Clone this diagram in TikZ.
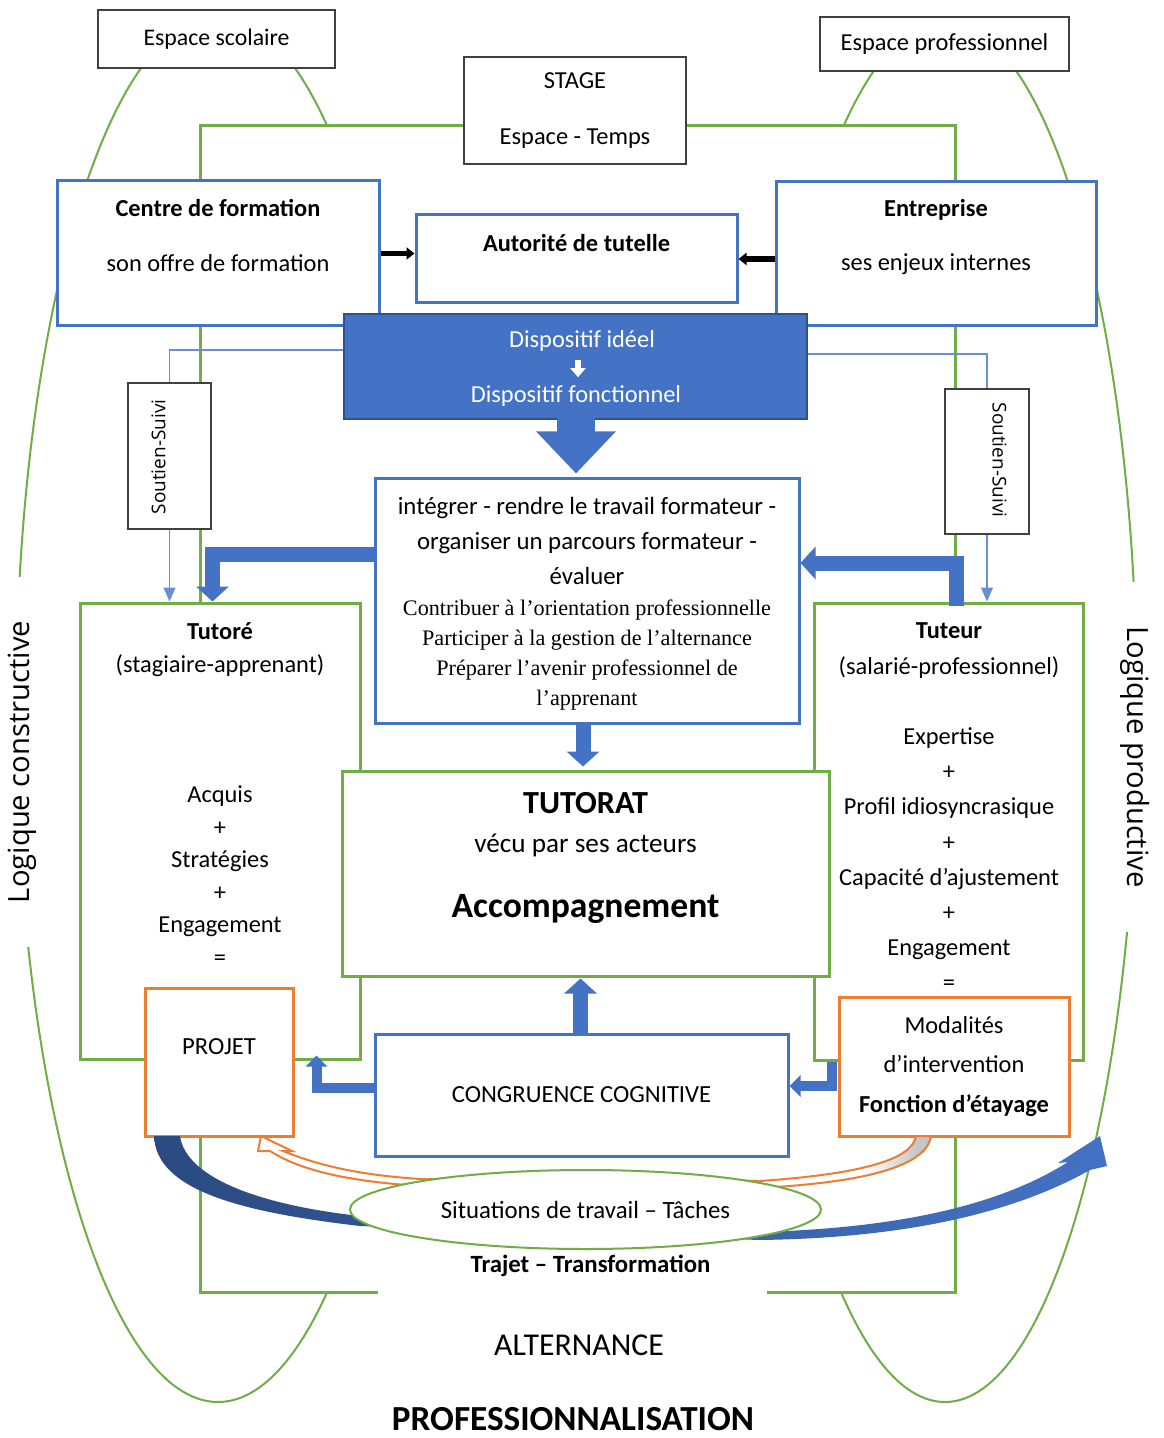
\documentclass[tikz,border=0pt]{standalone}
\usepackage{fontspec}
\setmainfont{Carlito}
\newfontfamily\seriffont{Liberation Serif}
\newfontfamily\logfont{Open Sans}
\usepackage{tikz}
\usetikzlibrary{shapes}
\usetikzlibrary{positioning}
\usetikzlibrary{arrows.meta}
\usetikzlibrary{calc}
\definecolor{blueA}{HTML}{4472C4}
\definecolor{blueD}{HTML}{2F528F}
\definecolor{blueL}{HTML}{6A8FD0}
\definecolor{greenA}{HTML}{70AD47}
\definecolor{orangeA}{HTML}{ED7D31}
\pgfdeclarehorizontalshading{orangefade}{100bp}{color(0bp)=(white); color(70bp)=(white); color(74bp)=(gray!45); color(100bp)=(gray!45)}
\newcommand{\fsz}[2]{\fontsize{#1}{#2}\selectfont}
\tikzset{
    espbox/.style = {rectangle, draw=black!75, line width=0.6pt, fill=white, inner sep=0pt, align=center, font=\fsz{12.2}{14}},
    bluebox/.style = {rectangle, draw=blueA, line width=1.5pt, fill=white, inner sep=0pt, align=center},
    greenbox/.style = {rectangle, draw=greenA, line width=1.5pt, fill=white, inner sep=0pt, align=center},
    orangebox/.style = {rectangle, draw=orangeA, line width=1.5pt, fill=white, inner sep=0pt, align=center},
    txt/.style = {inner sep=0pt, align=center, font=\fsz{12.2}{14}},
    logique/.style = {fill=white, inner xsep=22pt, inner ysep=6pt, font=\logfont\fsz{14.6}{17}},
    edgek/.style = {-{Triangle[width=6pt,length=4pt]}, line width=2.6pt, black},
    edget/.style = {blueL, line width=0.7pt},
    edgetip/.style = {edget, -{Triangle[width=6pt,length=7pt]}},
    edgew/.style = {-{Triangle[width=7.5pt,length=4.5pt]}, line width=3pt, white},
    edgebig/.style = {-{Triangle[width=38.5pt,length=21pt]}, line width=19pt, blueA},
    edgemid/.style = {-{Triangle[width=16pt,length=7.5pt]}, line width=7.5pt, blueA},
    edgesm/.style = {-{Triangle[width=10.5pt,length=5.5pt]}, line width=5pt, blueA},
    ellg/.style = {greenA, line width=1pt},
}

\begin{document}
\begin{tikzpicture}[x=0.5pt, y=-0.5pt]
\useasboundingbox (0,0) rectangle (1163,1438);

% espaces et alternance
\draw[ellg] (218,709) ellipse [x radius=101pt, y radius=346.5pt];
\draw[ellg] (945,712) ellipse [x radius=96pt, y radius=345pt];
\fill[white] (200,126) rectangle (955,1292);
\draw[greenA, line width=1.5pt] (378,1292) -- (200,1292) -- (200,126) -- (955,126) -- (955,1292) -- (767,1292);
\node[logique, rotate=90] at (22,762) (logc) {Logique constructive};
\node[logique, rotate=-90] at (1135,757) (logp) {Logique productive};

\node[espbox, minimum width=118.5pt, minimum height=29pt, font=\fsz{11.9}{14}] at (216.5,39) (scol) {Espace scolaire};
\node[espbox, minimum width=111pt, minimum height=53.5pt, font=\fsz{12.2}{28}] at (575,110.5) (stage) {STAGE\\Espace - Temps};
\node[espbox, minimum width=124.5pt, minimum height=27pt] at (944.5,44) (pro) {Espace professionnel};

% acteurs institutionnels
\node[bluebox, minimum width=161pt, minimum height=72.5pt] at (218,253.5) (centre) {};
\node[txt, font=\fsz{12.2}{27.5}] at (218,236) (centreT) {\textbf{Centre de formation}\\son offre de formation};
\node[bluebox, minimum width=160.5pt, minimum height=44pt] at (576.5,259) (aut) {};
\node[txt] at (576.5,243) (autT) {\textbf{Autorité de tutelle}};
\node[bluebox, minimum width=160pt, minimum height=72pt] at (936,254) (entr) {};
\node[txt, font=\fsz{12.2}{27}] at (936,237) (entrT) {\textbf{Entreprise}\\ses enjeux internes};
\node[rectangle, draw=blueD, line width=1pt, fill=blueA, minimum width=231.5pt, minimum height=52.5pt] at (575.5,366.5) (disp) {};
\node[txt, white] at (582,341) (dispA) {Dispositif idéel};
\node[txt, white] at (576,396) (dispB) {Dispositif fonctionnel};

\node[espbox, minimum width=41.5pt, minimum height=73pt] at (169.5,456) (sout1) {};
\node[txt, font=\logfont\fsz{9.5}{11}] at (158.5,457) (sout1T) {\rotatebox{90}{Soutien-Suivi}};
\node[espbox, minimum width=42pt, minimum height=72.5pt] at (987,461.5) (sout2) {};
\node[txt, font=\logfont\fsz{9.5}{11}] at (999.5,460) (sout2T) {\rotatebox{-90}{Soutien-Suivi}};

\node[bluebox, minimum width=212pt, minimum height=122.5pt] at (587,600.5) (mission) {};
\node[txt, font=\fsz{12.4}{17.5}] at (587,541) (missionA) {intégrer - rendre le travail formateur -\\organiser un parcours formateur -\\évaluer};
\node[txt, font=\seriffont\fsz{11.1}{15}] at (587,655) (missionB) {Contribuer à l’orientation professionnelle\\Participer à la gestion de l’alternance\\Préparer l’avenir professionnel de\\l’apprenant};

% acteurs du tutorat
\node[greenbox, minimum width=140pt, minimum height=228pt] at (220,831) (tutore) {};
\node[txt, font=\fsz{12.2}{16.3}] at (220,794) (tutoreT) {\textbf{Tutoré}\\(stagiaire-apprenant)\\~\\~\\~\\Acquis\\+\\Stratégies\\+\\Engagement\\=};
\node[greenbox, minimum width=134.5pt, minimum height=228.5pt] at (948.5,831.5) (tuteur) {};
\node[txt, font=\fsz{12.2}{17.6}] at (949,807) (tuteurT) {\textbf{Tuteur}\\(salarié-professionnel)\\~\\Expertise\\+\\Profil idiosyncrasique\\+\\Capacité d’ajustement\\+\\Engagement\\=};
\node[greenbox, minimum width=243.5pt, minimum height=102.5pt] at (585.5,873.5) (tutorat) {};
\node[txt, font=\bfseries\fsz{16.1}{18}] at (585.5,803) (tutoratA) {TUTORAT};
\node[txt, font=\fsz{13.6}{16}] at (585.5,845) (tutoratB) {vécu par ses acteurs};
\node[txt, font=\bfseries\fsz{17.8}{20}] at (585.5,909) (tutoratC) {Accompagnement};

\node[orangebox, minimum width=74pt, minimum height=74pt] at (219,1062) (projet) {};
\node[txt, font=\fsz{12.3}{14}] at (219,1047) (projetT) {PROJET};
\node[orangebox, minimum width=115pt, minimum height=69.5pt, font=\fsz{12.2}{19.75}] at (954,1066.5) (modal) {Modalités\\d’intervention\\\textbf{Fonction d’étayage}};
\node[bluebox, minimum width=206.5pt, minimum height=61pt, font=\fsz{12.3}{14}] at (581.5,1095) (congr) {CONGRUENCE COGNITIVE};
%
\draw[edgek] (centre.east) -- (centre.east -| aut.west);
\draw[edgek] (entr.west |- aut.east) -- (aut.east);
\draw[edgew] ($(dispA.south)+(-4,8)$) -- ($(dispB.north)+(2,-8)$);
\draw[edget] ($(disp.west)+(0,-16.5)$) -| (sout1.north);
\draw[edgetip] (sout1.south) -- (sout1.south |- tutore.north);
\draw[edget] ($(disp.east)+(0,-12.5)$) -| (sout2.north);
\draw[edgetip] (sout2.south) -- (sout2.south |- tuteur.north);
\draw[edgebig] ($(disp.south)+(0.5,-4)$) -- ($(disp.south |- mission.north)+(0.5,-3)$);
\draw[edgemid] ($(mission.south)+(-4,0)$) -- ($(tutorat.north)+(-2.5,-3)$);
\draw[edgemid] ($(congr.north)+(-1,0)$) -- ($(tutorat.south)+(-5,1)$);
\draw[edgemid] ($(mission.west)+(0,-46)$) -| ($(tutore.north)+(-7.5,0)$);
\draw[edgemid] ($(tuteur.north)+(7.5,4)$) |- ($(mission.east)+(0,-37.5)$);
\draw[edgesm] ($(congr.west)+(0,-7.5)$) -| ($(tutore.south)+(96.5,-5)$);
\draw[edgesm] ($(tuteur.south)+(-116.5,0)$) |- ($(congr.east)+(0,-9)$);

% trajet
\shade[left color=blueD!90!black, right color=blueA] (180,1136) .. controls (186,1178) and (260,1205) .. (360,1216) -- (760,1232) .. controls (900,1228) and (1000,1205) .. (1068,1162) -- (1058,1163) -- (1100,1136) -- (1107,1166) -- (1090,1170) .. controls (1010,1215) and (900,1238) .. (760,1240) -- (360,1226) .. controls (240,1212) and (156,1190) .. (154,1136) -- cycle;
\shadedraw[shading=orangefade, draw=orangeA, line width=1pt] (261,1136) -- (292,1151) -- (283,1151) .. controls (320,1166) and (360,1175) .. (420,1179) -- (760,1181) .. controls (860,1174) and (912,1160) .. (916,1136) -- (931,1136) .. controls (926,1170) and (850,1183) .. (760,1188) -- (420,1186) .. controls (345,1181) and (300,1170) .. (270,1151) -- (258,1151) -- cycle;
\node[ellipse, draw=greenA, line width=1pt, fill=white, minimum width=235.5pt, minimum height=39.5pt, inner sep=0pt, font=\fsz{12.4}{14}] at (585.5,1209.5) (situ) {Situations de travail – Tâches};

\node[txt, font=\bfseries\fsz{12.4}{14}] at (590.5,1266) (trajet) {Trajet – Transformation};
\node[txt, font=\fsz{15.9}{18}] at (579,1345) (altern) {ALTERNANCE};
\node[txt, font=\bfseries\fsz{17.6}{21}] at (573,1419) (prof) {PROFESSIONNALISATION};

\end{tikzpicture}
\end{document}
